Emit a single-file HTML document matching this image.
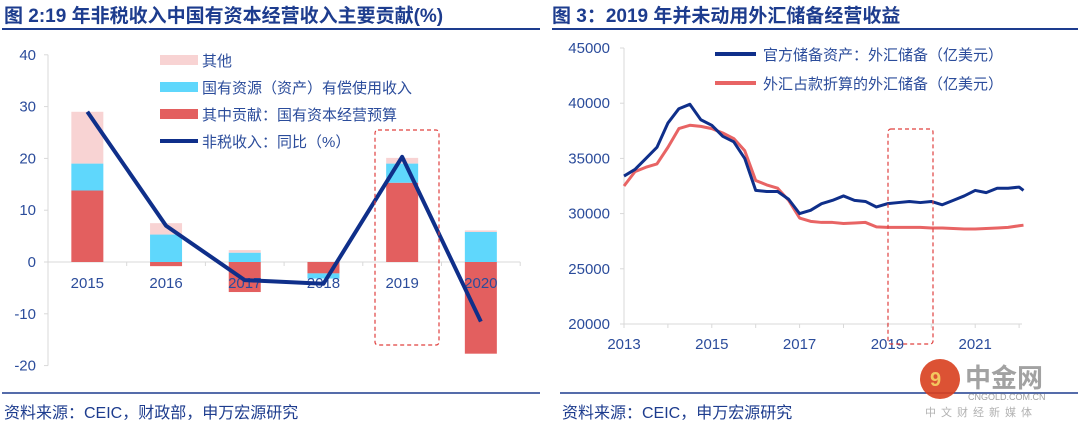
<!DOCTYPE html>
<html><head><meta charset="utf-8">
<style>
body{margin:0;width:1080px;height:429px;background:#fff;overflow:hidden;font-family:"Liberation Sans","Noto Sans CJK SC",sans-serif;}
svg{position:absolute;left:0;top:0}
</style></head>
<body>
<svg id="c" width="1080" height="429" xmlns="http://www.w3.org/2000/svg" font-family="Liberation Sans, Noto Sans CJK SC, sans-serif">
<text x="4" y="22" font-size="19" font-weight="bold" fill="#1d3c8e">图 2:19 年非税收入中国有资本经营收入主要贡献(%)</text>
<line x1="2" y1="29" x2="540" y2="29" stroke="#1d3c8e" stroke-width="2"/>
<text x="552" y="22" font-size="19" font-weight="bold" fill="#1d3c8e">图 3：2019 年并未动用外汇储备经营收益</text>
<line x1="552" y1="29" x2="1078" y2="29" stroke="#1d3c8e" stroke-width="2"/>
<line x1="2" y1="393" x2="540" y2="393" stroke="#1d3c8e" stroke-width="1.5"/>
<line x1="560" y1="393" x2="1078" y2="393" stroke="#1d3c8e" stroke-width="1.5"/>
<text x="4" y="418" font-size="16" fill="#1d3c8e">资料来源：CEIC，财政部，申万宏源研究</text>
<text x="562" y="418" font-size="16" fill="#1d3c8e">资料来源：CEIC，申万宏源研究</text>
<g opacity="0.9">
<circle cx="940" cy="379" r="20" fill="#d9401f"/>
<text x="930" y="386" font-size="20" font-weight="bold" fill="#f2c14e">9</text>
<text x="965" y="387" font-size="26" font-weight="bold" fill="#999">中金网</text>
<text x="968" y="400" font-size="9" fill="#999">CNGOLD.COM.CN</text>
<text x="925" y="416" font-size="11" fill="#aaa" letter-spacing="5">中文财经新媒体</text>
</g>
<g id="left"></g><g id="right"></g>
</svg>
<script>
const NS="http://www.w3.org/2000/svg";
const years=["2015","2016","2017","2018","2019","2020"];
const soeBudget=[13.8,-0.8,-5.8,-2.2,15.3,-17.7];
const resourceIncome=[5.2,5.3,1.8,-1.0,3.7,5.8];
const otherIncome=[10.0,2.2,0.5,0,1.1,0.3];
const nonTaxYoY=[29.0,7.0,-3.5,-4.2,20.3,-11.5];
const leftTicks=[40,30,20,10,0,-10,-20];

const rYears=["2013","2015","2017","2019","2021"];
const rDates=[2013,2013.25,2013.5,2013.75,2014,2014.25,2014.5,2014.75,2015,2015.25,2015.5,2015.75,2016,2016.25,2016.5,2016.75,2017,2017.25,2017.5,2017.75,2018,2018.25,2018.5,2018.75,2019,2019.25,2019.5,2019.75,2020,2020.25,2020.5,2020.75,2021,2021.25,2021.5,2021.75,2022,2022.1];
const officialReserves=[33400,34000,35000,36000,38200,39500,39900,38500,38000,37000,36500,35000,32100,32000,32000,31300,30000,30300,30900,31200,31600,31200,31100,30600,30900,31000,31100,31000,31100,30800,31200,31600,32100,31900,32300,32300,32400,32100];
const fxPositionReserves=[32500,33800,34200,34500,36000,37700,38000,37900,37700,37300,36800,35700,33000,32600,32300,31200,29600,29300,29200,29200,29100,29150,29200,28800,28750,28750,28750,28750,28700,28700,28650,28600,28600,28650,28700,28750,28900,28950];
const rightTicks=[45000,40000,35000,30000,25000,20000];

function el(p,t,a,txt){const e=document.createElementNS(NS,t);for(const k in a)e.setAttribute(k,a[k]);if(txt!==undefined)e.textContent=txt;p.appendChild(e);return e;}
const tc="#2b4c9b";
// LEFT
const L=document.getElementById('left');
const ly=v=>262-v*5.18;
const lx0=48,cw=78.7,lx=i=>lx0+cw*(i+0.5);
el(L,'line',{x1:lx0,y1:ly(40),x2:lx0,y2:ly(-20),stroke:'#d9d9d9'});
el(L,'line',{x1:lx0,y1:ly(0),x2:lx0+cw*6,y2:ly(0),stroke:'#d9d9d9'});
leftTicks.forEach(t=>{
  el(L,'line',{x1:lx0-4,y1:ly(t),x2:lx0,y2:ly(t),stroke:'#d9d9d9'});
  const e=el(L,'text',{x:lx0-12,y:ly(t)+5,'text-anchor':'end','font-size':15,fill:tc},String(t));
  
  
});
for(let i=0;i<=6;i++)el(L,'line',{x1:lx0+cw*i,y1:ly(0),x2:lx0+cw*i,y2:ly(0)+4,stroke:'#d9d9d9'});
years.forEach((y,i)=>{
  const bw=32,x=lx(i)-bw/2;
  let pos=0,neg=0;
  [[soeBudget,'#e35f5f'],[resourceIncome,'#5fd7fc'],[otherIncome,'#f8d3d3']].forEach(([arr,c])=>{
    const v=arr[i];if(!v)return;
    let a,b;
    if(v>=0){a=pos;b=pos+v;pos=b;}else{a=neg;b=neg+v;neg=b;}
    const r=el(L,'rect',{x:x,y:Math.min(ly(a),ly(b)),width:bw,height:Math.abs(ly(a)-ly(b)),fill:c});
    
    
  });
  const t=el(L,'text',{x:lx(i),y:ly(0)+26,'text-anchor':'middle','font-size':15,fill:tc},y);
  
  
});
const lp=el(L,'polyline',{points:nonTaxYoY.map((v,i)=>lx(i)+','+ly(v)).join(' '),fill:'none',stroke:'#0f2f8a','stroke-width':4,'stroke-linejoin':'round'});


el(L,'rect',{x:375,y:130,width:64,height:215,fill:'none',stroke:'#e0403f','stroke-dasharray':'4,3','stroke-width':1.2,rx:3});
const leg=[['rect','#f8d3d3','其他'],['rect','#5fd7fc','国有资源（资产）有偿使用收入'],['rect','#e35f5f','其中贡献：国有资本经营预算'],['line','#0f2f8a','非税收入：同比（%）']];
leg.forEach((l,i)=>{
  const yy=60+i*27;
  if(l[0]=='rect')el(L,'rect',{x:160,y:yy-5,width:38,height:10,fill:l[1]});
  else el(L,'line',{x1:160,y1:yy,x2:198,y2:yy,stroke:l[1],'stroke-width':4});
  const t=el(L,'text',{x:202,y:yy+6,'font-size':15,fill:tc},l[2]);
  
  
});
// RIGHT
const R=document.getElementById('right');
const ry=v=>324-(v-20000)*0.01104;
const rx=d=>624+(d-2013)*43.9;
el(R,'line',{x1:624,y1:ry(45000),x2:624,y2:ry(20000),stroke:'#d9d9d9'});
el(R,'line',{x1:624,y1:ry(20000),x2:1022,y2:ry(20000),stroke:'#d9d9d9'});
rightTicks.forEach(t=>{
  el(R,'line',{x1:620,y1:ry(t),x2:624,y2:ry(t),stroke:'#d9d9d9'});
  const e=el(R,'text',{x:610,y:ry(t)+5,'text-anchor':'end','font-size':15,fill:tc},String(t));
  
  
});
for(let y=2013;y<=2022;y++)el(R,'line',{x1:rx(y),y1:ry(20000),x2:rx(y),y2:ry(20000)+4,stroke:'#d9d9d9'});
rYears.forEach(y=>{
  const t=el(R,'text',{x:rx(+y),y:ry(20000)+25,'text-anchor':'middle','font-size':15,fill:tc},y);
  
  
});
const p2=el(R,'polyline',{points:rDates.map((d,i)=>rx(d)+','+ry(fxPositionReserves[i])).join(' '),fill:'none',stroke:'#e86464','stroke-width':3,'stroke-linejoin':'round'});


const p1=el(R,'polyline',{points:rDates.map((d,i)=>rx(d)+','+ry(officialReserves[i])).join(' '),fill:'none',stroke:'#0f2f8a','stroke-width':3,'stroke-linejoin':'round'});


el(R,'rect',{x:888,y:129,width:45,height:215,fill:'none',stroke:'#e0403f','stroke-dasharray':'4,3','stroke-width':1.2,rx:3});
[['#0f2f8a','官方储备资产：外汇储备（亿美元）'],['#e86464','外汇占款折算的外汇储备（亿美元）']].forEach((l,i)=>{
  const yy=54+i*29;
  el(R,'line',{x1:715,y1:yy,x2:756,y2:yy,stroke:l[0],'stroke-width':4});
  const t=el(R,'text',{x:763,y:yy+6,'font-size':15,fill:tc},l[1]);
  
  
});
</script>
</body></html>
